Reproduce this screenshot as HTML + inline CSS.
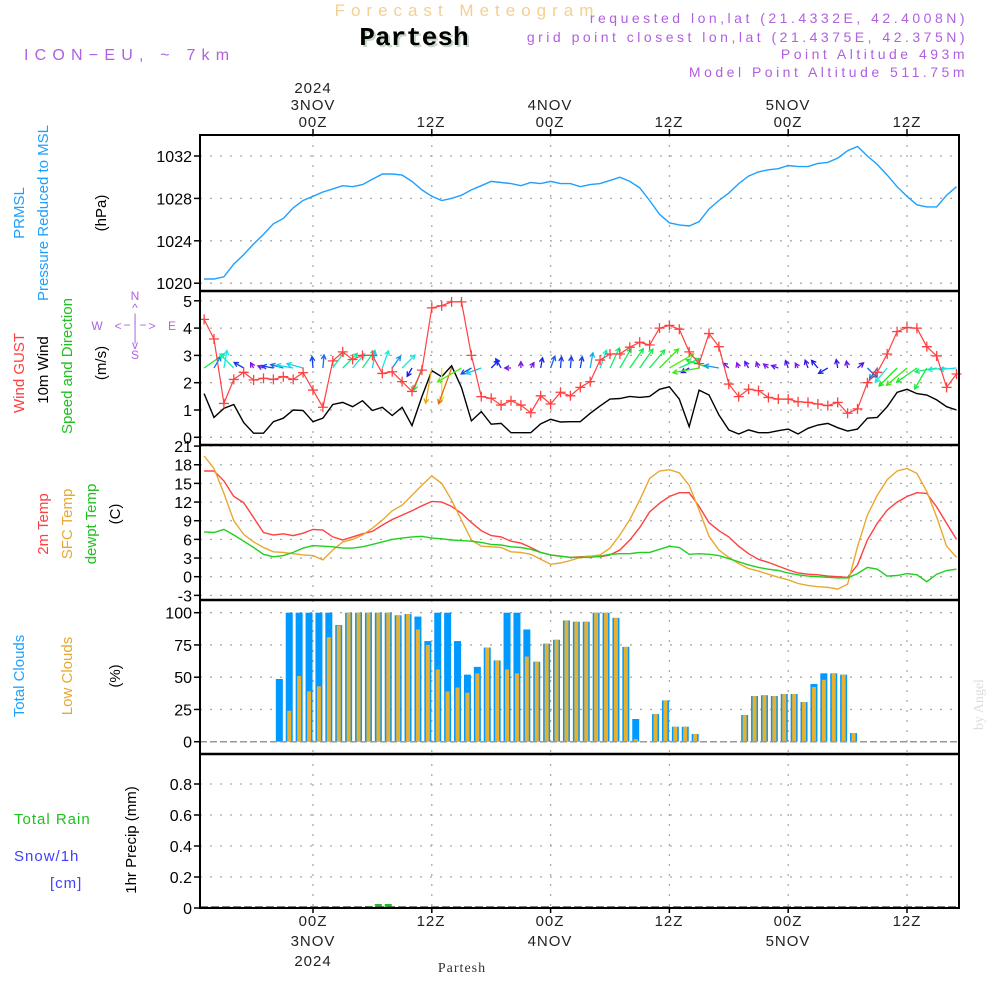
<!DOCTYPE html>
<html><head><meta charset="utf-8"><style>
body{margin:0;background:#fff;}
svg{display:block;font-family:"Liberation Sans",sans-serif;}
</style></head><body>
<svg id="chart" width="1000" height="1000" viewBox="0 0 1000 1000" xmlns="http://www.w3.org/2000/svg">
<rect width="1000" height="1000" fill="#fff"/>
<text x="467" y="16" fill="#f5cf8f" font-size="17" text-anchor="middle" letter-spacing="6">Forecast Meteogram</text>
<text x="416" y="47" fill="#c8d8c8" font-size="26" font-weight="bold" font-family="Liberation Mono,monospace" text-anchor="middle">Partesh</text>
<text x="414" y="45" fill="#000" font-size="26" font-weight="bold" font-family="Liberation Mono,monospace" text-anchor="middle">Partesh</text>
<text x="24" y="60" fill="#b060e0" font-size="16" letter-spacing="6.2">ICON−EU, ~ 7km</text>
<g fill="#b060e0" font-size="14" text-anchor="end" letter-spacing="3.5">
<text x="968" y="23">requested lon,lat (21.4332E, 42.4008N)</text>
<text x="968" y="42">grid point closest lon,lat (21.4375E, 42.375N)</text>
<text x="968" y="59">Point Altitude 493m</text>
<text x="968" y="77">Model Point Altitude 511.75m</text>
</g>
<g font-size="15" fill="#222" text-anchor="middle" letter-spacing="1">
<text x="313" y="93">2024</text><text x="313" y="110">3NOV</text><text x="313" y="127">00Z</text>
<text x="431" y="127">12Z</text>
<text x="550" y="110">4NOV</text><text x="550" y="127">00Z</text>
<text x="669" y="127">12Z</text>
<text x="788" y="110">5NOV</text><text x="788" y="127">00Z</text>
<text x="907" y="127">12Z</text>
</g>
<g font-size="15" fill="#222" text-anchor="middle" letter-spacing="1">
<text x="313" y="926">00Z</text><text x="313" y="946">3NOV</text><text x="313" y="966">2024</text>
<text x="431" y="926">12Z</text>
<text x="550" y="926">00Z</text><text x="550" y="946">4NOV</text>
<text x="669" y="926">12Z</text>
<text x="788" y="926">00Z</text><text x="788" y="946">5NOV</text>
<text x="907" y="926">12Z</text>
</g>
<text x="462" y="972" font-size="14" font-family="Liberation Serif,serif" fill="#333" text-anchor="middle" letter-spacing="1">Partesh</text>
<text transform="translate(983,730) rotate(-90)" font-size="14" font-family="Liberation Serif,serif" fill="#ddd">by Angel</text>
<g font-size="15">
<text transform="translate(24,213) rotate(-90)" fill="#1ea0ff" text-anchor="middle">PRMSL</text>
<text transform="translate(48,213) rotate(-90)" fill="#1ea0ff" text-anchor="middle">Pressure Reduced to MSL</text>
<text transform="translate(106,213) rotate(-90)" fill="#000" text-anchor="middle">(hPa)</text>
<text transform="translate(24,373) rotate(-90)" fill="#ff4040" text-anchor="middle">Wind GUST</text>
<text transform="translate(48,370) rotate(-90)" fill="#000" text-anchor="middle">10m Wind</text>
<text transform="translate(72,366) rotate(-90)" fill="#20c020" text-anchor="middle">Speed and Direction</text>
<text transform="translate(106,363) rotate(-90)" fill="#000" text-anchor="middle">(m/s)</text>
<text transform="translate(48,524) rotate(-90)" fill="#ff4040" text-anchor="middle">2m Temp</text>
<text transform="translate(72,524) rotate(-90)" fill="#e8a830" text-anchor="middle">SFC Temp</text>
<text transform="translate(96,524) rotate(-90)" fill="#20c020" text-anchor="middle">dewpt Temp</text>
<text transform="translate(120,514) rotate(-90)" fill="#000" text-anchor="middle">(C)</text>
<text transform="translate(24,676) rotate(-90)" fill="#1ea0ff" text-anchor="middle">Total Clouds</text>
<text transform="translate(72,676) rotate(-90)" fill="#e8a830" text-anchor="middle">Low Clouds</text>
<text transform="translate(120,676) rotate(-90)" fill="#000" text-anchor="middle">(%)</text>
<text x="14" y="824" fill="#20c020" letter-spacing="1">Total  Rain</text>
<text x="14" y="861" fill="#4040ff" letter-spacing="1">Snow/1h</text>
<text x="50" y="888" fill="#4040ff" letter-spacing="1">[cm]</text>
<text transform="translate(136,840) rotate(-90)" fill="#000" text-anchor="middle">1hr Precip (mm)</text>
</g>
<g fill="#b060e0" font-size="12" text-anchor="middle">
<text x="135" y="300">N</text><text x="135" y="312">^</text><text x="135" y="322">|</text>
<text x="97" y="330">W</text><text x="118" y="330">&lt;</text><text x="127" y="329">−</text><text x="135" y="330">|</text><text x="143" y="329">−</text><text x="152" y="330">&gt;</text><text x="172" y="330">E</text>
<text x="135" y="341">|</text><text x="135" y="349">v</text><text x="135" y="359">S</text>
</g>
<g id="grid"></g>
<g id="marks"></g>
<g id="frame"></g>
</svg>
<script>
const hours = [];
for (let h = -11; h <= 65; h++) hours.push(h);
const pressure = [1020.4,1020.4,1020.6,1021.8,1022.7,1023.7,1024.6,1025.6,1026.1,1027.1,1027.8,1028.2,1028.6,1028.9,1029.2,1029.1,1029.3,1029.8,1030.3,1030.3,1030.2,1029.6,1028.8,1028.2,1027.8,1028.0,1028.3,1028.8,1029.2,1029.6,1029.5,1029.4,1029.2,1029.5,1029.4,1029.6,1029.4,1029.4,1029.1,1029.3,1029.4,1029.7,1030.0,1029.6,1029.0,1027.8,1026.5,1025.7,1025.5,1025.4,1025.8,1027.0,1027.8,1028.5,1029.4,1030.1,1030.5,1030.7,1030.8,1031.1,1031.0,1031.0,1031.3,1031.4,1031.8,1032.5,1032.9,1032.0,1031.2,1030.2,1029.1,1028.2,1027.4,1027.2,1027.2,1028.3,1029.1];
const wind10m = [1.6,0.73,1.06,1.2,0.54,0.15,0.15,0.57,0.7,1.0,0.98,0.57,0.7,1.2,1.28,1.12,1.34,0.98,1.1,0.8,1.1,0.43,1.49,2.44,2.22,2.62,1.82,0.6,0.94,0.48,0.51,0.17,0.17,0.17,0.49,0.66,0.56,0.57,0.57,0.88,1.15,1.4,1.42,1.5,1.46,1.5,1.76,1.85,1.4,0.39,1.73,1.55,0.82,0.27,0.12,0.27,0.17,0.17,0.24,0.3,0.12,0.33,0.45,0.51,0.35,0.23,0.3,0.7,0.73,1.12,1.65,1.76,1.6,1.55,1.37,1.12,1.0];
const gust = [4.32,3.6,1.24,2.12,2.38,2.1,2.16,2.12,2.22,2.12,2.37,1.73,1.1,2.8,3.13,2.85,3.0,3.0,2.34,2.4,2.04,1.68,2.46,4.74,4.82,4.96,4.96,3.0,1.49,1.43,1.18,1.34,1.18,0.9,1.52,1.22,1.65,1.52,1.83,2.04,2.83,3.05,3.05,3.3,3.48,3.38,4.0,4.1,3.96,3.13,2.7,3.8,3.32,1.95,1.49,1.76,1.71,1.46,1.4,1.4,1.3,1.28,1.22,1.16,1.28,0.88,1.04,2.0,2.38,3.05,3.87,4.02,4.0,3.32,2.98,1.83,2.32];
const windDirFrom = [235,210,190,135,120,150,110,100,105,100,105,175,185,215,225,220,215,190,200,215,225,30,20,10,0,20,60,60,70,225,150,90,180,210,190,200,185,185,190,190,200,205,210,215,215,220,225,240,245,60,80,110,100,130,160,150,160,130,110,160,150,160,140,60,170,170,230,315,35,40,45,50,55,30,80,85,85];
const temp2m = [17.0,17.0,15.4,12.9,11.9,9.5,7.1,6.7,6.9,6.6,7.0,7.6,7.5,6.4,5.9,6.4,6.9,7.3,8.3,9.2,9.9,10.6,11.4,12.1,12.0,11.3,10.2,8.7,7.4,6.6,6.4,5.7,5.4,4.7,3.9,3.5,3.3,3.1,3.2,3.3,3.2,3.5,4.3,5.9,7.9,10.4,11.8,12.9,13.5,13.5,11.3,8.7,7.4,6.4,4.9,3.7,2.8,2.3,1.7,1.1,0.6,0.4,0.3,0.1,0,-0.1,1.9,5.9,8.6,10.7,12.0,12.9,13.5,13.4,11.2,8.6,6.0];
const tempSfc = [19.4,17.4,13.4,9.0,6.8,5.6,4.7,4.0,3.9,3.7,3.5,3.4,2.7,4.3,5.6,6.0,6.7,7.8,9.1,10.6,11.5,13.1,14.7,16.2,15.0,12.3,9.1,5.9,4.9,4.8,4.7,4.0,3.9,3.6,2.8,2.0,2.2,2.6,3.1,3.3,3.5,4.6,6.7,9.2,12.3,15.8,17.0,17.2,16.7,14.7,10.7,6.5,4.3,3.1,2.1,1.3,0.9,0.4,-0.1,-0.5,-1.1,-1.4,-1.6,-1.7,-2.0,-1.2,4.8,9.9,13.1,15.6,17.0,17.4,16.6,13.7,9.6,4.9,3.1];
const dewpoint = [7.2,7.1,7.6,6.7,5.7,4.7,3.6,3.2,3.4,3.9,4.6,5.0,4.9,4.8,4.6,4.6,4.8,5.2,5.6,6.0,6.2,6.4,6.5,6.2,6.1,5.9,5.8,5.7,5.5,5.2,5.1,4.8,4.7,4.4,3.9,3.5,3.3,3.1,3.1,3.1,3.3,3.6,3.7,3.7,3.9,3.9,4.4,4.9,4.7,3.6,3.7,3.6,3.4,2.9,2.4,1.9,1.5,1.2,1.0,0.6,0.3,0.1,0,-0.1,-0.2,-0.2,0.5,1.5,1.2,0.1,0.2,0.5,0.3,-0.8,0.4,1.0,1.2];
const totalCloud = [0,0,0,0,0,0,0,0,48.6,100,100,100,100,100,90.4,100,100,100,100,100,98,99,97,78,100,100,78,52,58,73,63,100,100,87,62,76,79,94,93,93,100,100,96,73.5,17.6,0,21.4,32,11.6,11.6,6,0,0,0,0,20.7,35.4,36,35.4,37,37,30.7,44.7,53,53,52,6.7,0,0,0,0,0,0,0,0,0,0];
const lowCloud = [0,0,0,0,0,0,0,0,0,24,51,39,43,81,90,100,100,100,100,100,98,99,87,75,56,39,42,38,53,73,63,56,53,66,62,76,79,94,93,93,100,100,96,73.5,2,0,21.4,32,11.6,11.6,6,0,0,0,0,20.7,35.4,36,35.4,37,37,30.7,42.4,48,53,52,6.7,0,0,0,0,0,0,0,0,0,0];
const precipHours = [6,7,8];
const precipValues = [0.013,0.026,0.026];
const pressureTicks = [1020,1024,1028,1032];
const windTicks = [0,1,2,3,4,5];
const tempTicks = [-3,0,3,6,9,12,15,18,21];
const cloudTicks = [0,25,50,75,100];
const precipTicks = [0,0.2,0.4,0.6,0.8];
const timeGridHours = [0,12,24,36,48,60];

const NS = 'http://www.w3.org/2000/svg';
const X0 = 200, X1 = 959;
const xH = h => 313 + h * 9.9;
const yP = v => 156 + (1032 - v) * 10.6;
const yW = v => 437.3 - v * 27.3;
const yT = v => 576.7 - v * 6.22;
const yC = v => 741.7 - v * 1.29;
const yR = v => 908 - v * 155;
const panels = [[135,291],[291,445],[445,600],[600,754],[754,908]];
const grid = document.getElementById('grid');
const marks = document.getElementById('marks');
const frame = document.getElementById('frame');
function mk(tag, attrs, parent) {
  const e = document.createElementNS(NS, tag);
  for (const k in attrs) e.setAttribute(k, attrs[k]);
  parent.appendChild(e);
  return e;
}
function fmt(v){ return Number.isInteger(v) ? String(v) : v.toFixed(1); }
function axis(ticks, yf, labelf, name) {
  ticks.forEach(t => {
    const y = yf(t);
    const gl = mk('line', {x1:X0, x2:X1, y1:y, y2:y, stroke:'#aaa', 'stroke-width':1.3, 'stroke-dasharray':'2,8'}, grid);
    
    
    mk('line', {x1:X0-6, x2:X0, y1:y, y2:y, stroke:'#000', 'stroke-width':1.5}, frame);
    const tx = mk('text', {x:192, y:y+6, 'font-size':16, 'text-anchor':'end', fill:'#000'}, frame);
    tx.textContent = labelf(t);
    
    
  });
}
axis(pressureTicks, yP, fmt, 'pressure');
axis(windTicks, yW, fmt, 'wind');
axis(tempTicks, yT, fmt, 'temp');
axis(cloudTicks, yC, fmt, 'cloud');
axis(precipTicks, yR, fmt, 'precip');
timeGridHours.forEach(h => {
  const x = xH(h);
  panels.forEach(p => {
    const vl = mk('line', {x1:x, x2:x, y1:p[0], y2:p[1], stroke:'#aaa', 'stroke-width':1.3, 'stroke-dasharray':'2,8'}, grid);
    
    
  });
  mk('line', {x1:x, x2:x, y1:129, y2:135, stroke:'#000', 'stroke-width':1.5}, frame);
  mk('line', {x1:x, x2:x, y1:908, y2:913, stroke:'#000', 'stroke-width':1.5}, frame);
});
function line(vals, yf, color, name, w) {
  const pts = vals.map((v,i) => xH(hours[i]).toFixed(1) + ',' + yf(v).toFixed(1)).join(' ');
  const pl = mk('polyline', {points:pts, fill:'none', stroke:color, 'stroke-width':w||1.4}, marks);
  
  
}
totalCloud.forEach((v,i) => {
  const cx = xH(hours[i] - 0.4);
  if (v > 0) {
    const r = mk('rect', {x:cx-3.5, y:yC(v), width:7, height:yC(0)-yC(v), fill:'#0099ff'}, marks);
    
    
  }
  const lv = lowCloud[i];
  if (lv > 0) {
    const r2 = mk('rect', {x:cx-2, y:yC(lv), width:4, height:yC(0)-yC(lv), fill:'#e8b030'}, marks);
    
    
  }
});
const cb = mk('line', {x1:X0, x2:X1, y1:yC(0), y2:yC(0), stroke:'#999', 'stroke-width':1.5, 'stroke-dasharray':'7,3'}, marks);


precipValues.forEach((v,i) => {
  const cx = xH(precipHours[i] - 0.4);
  const r = mk('rect', {x:cx-3.5, y:yR(v), width:7, height:yR(0)-yR(v), fill:'#20c020'}, marks);
  
  
});
const pb = mk('line', {x1:X0, x2:X1, y1:907, y2:907, stroke:'#555', 'stroke-width':1.5, 'stroke-dasharray':'8,3'}, marks);


line(pressure, yP, '#1ea0ff', 'pressure-line');
line(temp2m, yT, '#ff4040', 'temp-2m-line');
line(tempSfc, yT, '#e8a830', 'temp-sfc-line');
line(dewpoint, yT, '#20d020', 'dewpoint-line');
line(wind10m, yW, '#000', 'wind-10m-line');
windDirFrom.forEach((d,i) => {
  const s = wind10m[i];
  const L = 4 + s * 13;
  const t = (d + 180) * Math.PI / 180;
  const x0 = xH(hours[i]), y0 = 368;
  const x1 = x0 + Math.sin(t) * L, y1 = y0 - Math.cos(t) * L;
  const hue = Math.max(20, 285 - s * 100);
  const col = 'hsl(' + hue + ',85%,50%)';
  const g = mk('g', {stroke:col, 'stroke-width':1.3, fill:'none'}, marks);
  
  
  mk('line', {x1:x0, y1:y0, x2:x1, y2:y1}, g);
  const a = Math.atan2(y1-y0, x1-x0), hl = 5;
  mk('polyline', {points:(x1-hl*Math.cos(a-0.5))+','+(y1-hl*Math.sin(a-0.5))+' '+x1+','+y1+' '+(x1-hl*Math.cos(a+0.5))+','+(y1-hl*Math.sin(a+0.5))}, g);
});
line(gust, yW, '#ff4040', 'gust-line', 1.2);
gust.forEach((v,i) => {
  const x = xH(hours[i]), y = yW(v);
  const p = mk('path', {d:'M'+(x-5)+' '+y+'H'+(x+5)+'M'+x+' '+(y-5)+'V'+(y+5), stroke:'#ff4040', 'stroke-width':1.3}, marks);
  
  
});
mk('rect', {x:X0, y:135, width:X1-X0, height:908-135, fill:'none', stroke:'#000', 'stroke-width':2}, frame);
[291,445,600,754].forEach(y => {
  const s = mk('line', {x1:X0, x2:X1, y1:y, y2:y, stroke:'#000', 'stroke-width':2.5}, frame);
  
  
});
</script>
</body></html>
